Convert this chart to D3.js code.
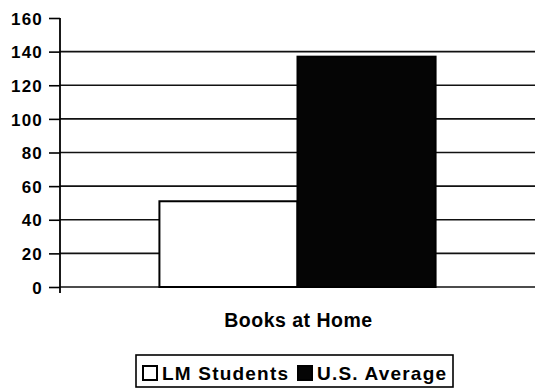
<!DOCTYPE html>
<html>
<head>
<meta charset="utf-8">
<script src="https://cdn.jsdelivr.net/npm/d3@7"></script>
<style>
  html, body { margin: 0; padding: 0; background: #fff; }
  svg { display: block; }
  text { font-family: "Liberation Sans", Arial, sans-serif; font-weight: bold; fill: #000; }
</style>
</head>
<body>
<svg id="chart" width="535" height="388"></svg>
<script>
// Chart data
const categories = ["Books at Home"];
const seriesNames = ["LM Students", "U.S. Average"];
const seriesValues = [51, 137];
const seriesFills = ["#ffffff", "#050505"];
const yTicks = [0, 20, 40, 60, 80, 100, 120, 140, 160];

const svg = d3.select("#chart");
const plot = { left: 60, right: 535, top: 18, bottom: 287 };

const y = d3.scaleLinear().domain([0, 160]).range([plot.bottom, plot.top]);
const x0 = d3.scaleBand().domain(categories).range([plot.left, plot.right])
  .paddingInner(0).paddingOuter(0.36);
const x1 = d3.scaleBand().domain(seriesNames).range([0, x0.bandwidth()]).padding(0);

// Horizontal gridlines (not at the top)
svg.append("g").selectAll("line")
  .data(yTicks.filter(d => d < 160))
  .join("line")
  .attr("x1", plot.left).attr("x2", plot.right)
  .attr("y1", d => y(d)).attr("y2", d => y(d))
  .attr("stroke", "#111").attr("stroke-width", 1.6);

// Bars
const bars = svg.append("g");
categories.forEach(cat => {
  bars.selectAll(null)
    .data(seriesNames.map((name, i) => ({ name, value: seriesValues[i], fill: seriesFills[i] })))
    .join("rect")
    .attr("x", d => x0(cat) + x1(d.name))
    .attr("y", d => y(d.value))
    .attr("width", x1.bandwidth())
    .attr("height", d => y(0) - y(d.value))
    .attr("fill", d => d.fill)
    .attr("stroke", "#000")
    .attr("stroke-width", 2);
});

// Y axis
const yAxis = d3.axisLeft(y).tickValues(yTicks).tickSize(11).tickPadding(6).tickSizeOuter(0);
const gy = svg.append("g").attr("transform", `translate(${plot.left},0)`).call(yAxis);
gy.select(".domain").remove();
gy.selectAll(".tick line").attr("stroke", "#000").attr("stroke-width", 1.6);
gy.selectAll(".tick text")
  .style("font-family", "'Liberation Sans', Arial, sans-serif")
  .style("font-weight", "bold")
  .style("font-size", "17px")
  .style("letter-spacing", "1.2px")
  .attr("dy", "0.36em");
svg.append("line")
  .attr("x1", plot.left).attr("x2", plot.left)
  .attr("y1", y(160)).attr("y2", y(0) + 6)
  .attr("stroke", "#000").attr("stroke-width", 1.8);

// Category label
svg.append("g").selectAll("text")
  .data(categories)
  .join("text")
  .attr("x", d => x0(d) + x0.bandwidth() / 2 + 1)
  .attr("y", 326.5)
  .attr("text-anchor", "middle")
  .style("font-size", "19.5px")
  .style("letter-spacing", "0.5px")
  .text(d => d);

// Legend
const legend = svg.append("g");
legend.append("rect")
  .attr("x", 136).attr("y", 355).attr("width", 317).attr("height", 32)
  .attr("fill", "#fff").attr("stroke", "#000").attr("stroke-width", 1.6);
const legendX = [142, 297];
seriesNames.forEach((name, i) => {
  legend.append("rect")
    .attr("x", legendX[i] + 1).attr("y", 366)
    .attr("width", 14).attr("height", 14)
    .attr("fill", seriesFills[i]).attr("stroke", "#000").attr("stroke-width", 2);
  legend.append("text")
    .attr("x", legendX[i] + 20).attr("y", 380)
    .style("font-size", "19px")
    .style("letter-spacing", "1.2px")
    .text(name);
});
</script>
</body>
</html>
